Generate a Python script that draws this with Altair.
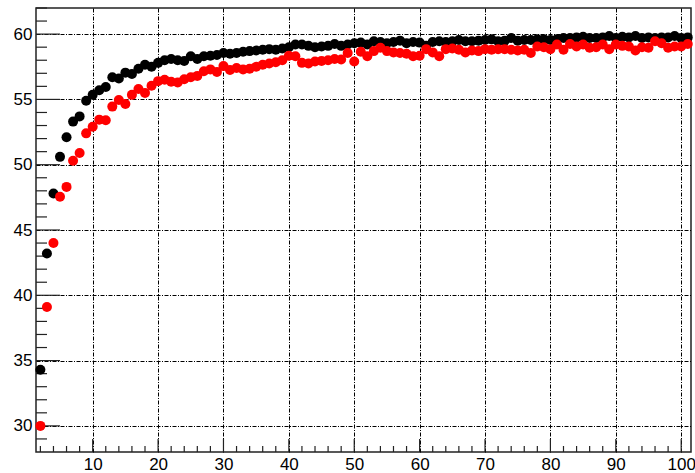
import altair as alt
import pandas as pd

# Bin index (x) shared by both series
x_vals = list(range(2, 102))

black_vals = [
    34.3, 43.2, 47.8, 50.6, 52.1, 53.3, 53.7, 54.9, 55.35, 55.7,
    55.95, 56.7, 56.6, 57.05, 56.95, 57.35, 57.65, 57.5, 57.8, 58.0,
    58.1, 58.0, 57.95, 58.3, 58.1, 58.3, 58.35, 58.4, 58.55, 58.5,
    58.55, 58.65, 58.7, 58.75, 58.8, 58.85, 58.8, 58.9, 59.0, 59.2,
    59.2, 59.1, 59.0, 59.05, 59.1, 59.25, 59.1, 59.2, 59.3, 59.35,
    59.2, 59.45, 59.4, 59.3, 59.4, 59.5, 59.3, 59.4, 59.35, 59.1,
    59.4, 59.45, 59.4, 59.45, 59.55, 59.45, 59.45, 59.5, 59.55, 59.6,
    59.45, 59.5, 59.7, 59.5, 59.55, 59.55, 59.6, 59.6, 59.55, 59.6,
    59.7, 59.7, 59.75, 59.8, 59.7, 59.7, 59.75, 59.85, 59.7, 59.8,
    59.75, 59.85, 59.7, 59.75, 59.7, 59.75, 59.75, 59.85, 59.7, 59.75,
]

red_vals = [
    30.0, 39.1, 44.0, 47.55, 48.3, 50.3, 50.9, 52.4, 52.9, 53.45,
    53.4, 54.45, 54.95, 54.65, 55.35, 55.8, 55.5, 56.05, 56.4, 56.5,
    56.35, 56.3, 56.55, 56.7, 56.8, 57.15, 57.3, 57.1, 57.55, 57.25,
    57.4, 57.3, 57.35, 57.5, 57.65, 57.75, 57.85, 58.0, 58.35, 58.3,
    57.8, 57.75, 57.9, 57.95, 58.0, 58.1, 58.05, 58.55, 57.9, 58.65,
    58.3, 58.7, 58.95, 58.7, 58.6, 58.55, 58.5, 58.3, 58.35, 58.85,
    58.6, 58.3, 58.85, 58.9, 58.8, 58.6, 58.75, 58.7, 58.85, 58.8,
    58.85, 58.85, 58.8, 58.75, 58.8, 58.55, 59.05, 59.0, 58.85, 59.2,
    58.8, 59.25, 59.05, 59.2, 58.95, 59.0, 59.2, 58.85, 59.2, 59.1,
    59.05, 58.75, 59.0, 58.95, 59.45, 59.3, 58.95, 59.05, 59.05, 59.25,
]

# Axis ticks
x_major = [10, 20, 30, 40, 50, 60, 70, 80, 90, 100]
x_minor = [v for v in range(2, 101, 2) if v % 10 != 0]
y_major = [30, 35, 40, 45, 50, 55, 60]
y_minor = [v for v in range(29, 63) if v % 5 != 0]

X_DOMAIN = [1.33, 101.5]
Y_DOMAIN = [28, 62]
W, H = 655, 444
FONT = "Liberation Sans"
GRID_DASH = [4, 1.5, 1, 1.5]

df = pd.DataFrame({
    "x": x_vals * 2,
    "y": black_vals + red_vals,
    "series": ["black"] * len(x_vals) + ["red"] * len(x_vals),
})

x_scale = alt.Scale(domain=X_DOMAIN, nice=False, zero=False)
y_scale = alt.Scale(domain=Y_DOMAIN, nice=False, zero=False)

x_axis = alt.Axis(
    values=x_major, title=None, ticks=False, domain=False,
    grid=True, gridColor="black", gridDash=GRID_DASH, gridWidth=1, gridOpacity=1,
    labelFont=FONT, labelFontSize=17, labelColor="black", labelPadding=4,
    labelFlush=False,
)
y_axis = alt.Axis(
    values=y_major, title=None, ticks=False, domain=False,
    grid=True, gridColor="black", gridDash=GRID_DASH, gridWidth=1, gridOpacity=1,
    labelFont=FONT, labelFontSize=17, labelColor="black", labelPadding=4,
    labelFlush=False,
)

points = alt.Chart(df).mark_circle(size=100, opacity=1).encode(
    x=alt.X("x:Q", scale=x_scale, axis=x_axis),
    y=alt.Y("y:Q", scale=y_scale, axis=y_axis),
    color=alt.Color("series:N", scale=alt.Scale(domain=["black", "red"], range=["#000000", "#ff0000"]), legend=None),
)

tick_color = "#222222"

y_major_ticks = alt.Chart(pd.DataFrame({"v": y_major})).mark_rule(color=tick_color, strokeWidth=1.2).encode(
    y=alt.Y("v:Q", scale=y_scale), x=alt.value(0), x2=alt.value(24)
)
y_minor_ticks = alt.Chart(pd.DataFrame({"v": y_minor})).mark_rule(color=tick_color, strokeWidth=1.2).encode(
    y=alt.Y("v:Q", scale=y_scale), x=alt.value(0), x2=alt.value(11)
)
x_major_ticks = alt.Chart(pd.DataFrame({"v": x_major})).mark_rule(color=tick_color, strokeWidth=1.2).encode(
    x=alt.X("v:Q", scale=x_scale), y=alt.value(H), y2=alt.value(H - 13)
)
x_minor_ticks = alt.Chart(pd.DataFrame({"v": x_minor})).mark_rule(color=tick_color, strokeWidth=1.2).encode(
    x=alt.X("v:Q", scale=x_scale), y=alt.value(H), y2=alt.value(H - 6)
)

chart = alt.layer(
    y_major_ticks, y_minor_ticks, x_major_ticks, x_minor_ticks, points
).properties(
    width=W, height=H,
    padding={"left": 36, "top": 8, "right": 4, "bottom": 21},
    autosize=alt.AutoSizeParams(type="none"),
    background="white",
).configure_view(
    stroke="#222222", strokeWidth=1.5
)

chart.save("out.html", embed_options={"renderer": "svg", "actions": False})
